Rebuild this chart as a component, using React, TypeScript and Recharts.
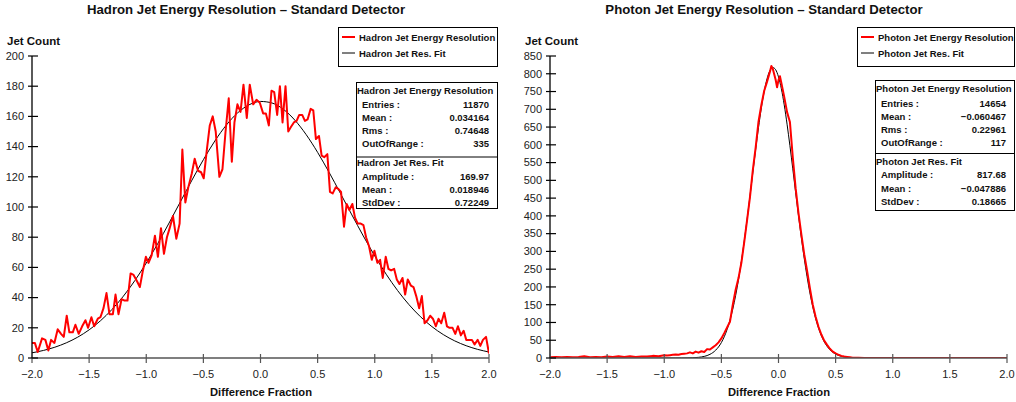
import React from 'react';
import { LineChart, Line, XAxis, YAxis } from 'recharts';

const FONT = '"Liberation Sans", Arial, Helvetica, sans-serif';

// ---------- shared ticks ----------
const xTicks = [-2, -1.5, -1, -0.5, 0, 0.5, 1, 1.5, 2];
const hadronYTicks = [0, 20, 40, 60, 80, 100, 120, 140, 160, 180, 200];
const photonYTicks = [0, 50, 100, 150, 200, 250, 300, 350, 400, 450, 500, 550, 600, 650, 700, 750, 800, 850];

// ---------- hadron histogram ----------
const hadronX = [
  -2.0, -1.975, -1.95, -1.912, -1.883, -1.857, -1.833, -1.804, -1.775, -1.746,
  -1.722, -1.696, -1.673, -1.643, -1.62, -1.591, -1.561, -1.532, -1.509, -1.48,
  -1.456, -1.424, -1.401, -1.374, -1.348, -1.322, -1.292, -1.269, -1.243, -1.216,
  -1.19, -1.164, -1.137, -1.111, -1.082, -1.056, -1.029, -1.003, -0.98, -0.953,
  -0.924, -0.898, -0.871, -0.845, -0.819, -0.795, -0.766, -0.737, -0.708, -0.684,
  -0.658, -0.632, -0.602, -0.576, -0.547, -0.52, -0.497, -0.471, -0.444, -0.418,
  -0.392, -0.36, -0.333, -0.307, -0.278, -0.251, -0.228, -0.202, -0.175, -0.149,
  -0.12, -0.094, -0.064, -0.035, -0.006, 0.023, 0.047, 0.073,
  0.096, 0.12, 0.146, 0.17, 0.193, 0.219, 0.243, 0.266, 0.292, 0.316,
  0.339, 0.365, 0.389, 0.412, 0.439, 0.462, 0.485, 0.512, 0.535, 0.558,
  0.585, 0.608, 0.632, 0.658, 0.681, 0.705, 0.731, 0.754, 0.778, 0.804,
  0.827, 0.851, 0.877, 0.901, 0.924, 0.95, 0.974, 0.997, 1.023, 1.047,
  1.07, 1.096, 1.12, 1.143, 1.17, 1.193, 1.216, 1.243, 1.266, 1.289,
  1.316, 1.339, 1.363, 1.389, 1.412, 1.436, 1.462, 1.485, 1.509, 1.535,
  1.558, 1.582, 1.608, 1.632, 1.655, 1.681, 1.705, 1.728, 1.754, 1.778,
  1.801, 1.827, 1.851, 1.874, 1.901, 1.924, 1.947, 1.974, 2.0,
];
const hadronCounts = [
  10, 10, 4, 13, 12, 5, 12, 10, 19, 16,
  14, 28, 17, 17, 22, 16, 21, 25, 20, 27,
  21, 26, 27, 33, 43, 29, 29, 42, 29, 39,
  38, 38, 56, 55, 51, 47, 58, 67, 63, 68,
  81, 67, 86, 69, 80, 86, 94, 79, 89, 138,
  103, 113, 122, 132, 124, 123, 119, 137, 154, 160,
  150, 120, 125, 149, 172, 130, 156, 168, 163, 181,
  159, 181, 168, 171, 169, 162, 162, 154,
  177, 176, 161, 180, 156, 180, 150, 153, 156, 157,
  161, 161, 157, 158, 165, 164, 145, 147, 134, 133,
  135, 110, 109, 113, 112, 110, 87, 102, 98, 102,
  93, 89, 89, 88, 80, 74, 65, 71, 63, 65,
  53, 67, 59, 58, 59, 52, 49, 53, 42, 52,
  48, 47, 41, 33, 41, 23, 25, 28, 26, 21,
  26, 23, 30, 21, 20, 20, 16, 21, 15, 18,
  12, 12, 12, 9, 12, 8, 12, 14, 3,
];
const hadronFitX = [
  -2.0, -1.9, -1.8, -1.7, -1.6, -1.5, -1.4, -1.3, -1.2, -1.1,
  -1.0, -0.9, -0.8, -0.7, -0.6, -0.5, -0.4, -0.3, -0.2, -0.1,
  0.0, 0.1, 0.2, 0.3, 0.4, 0.5, 0.6, 0.7, 0.8, 0.9,
  1.0, 1.1, 1.2, 1.3, 1.4, 1.5, 1.6, 1.7, 1.8, 1.9, 2.0,
];
const hadronFitY = [
  3.43, 5.0, 7.15, 10.03, 13.8, 18.65, 24.71, 32.12, 40.96, 51.24,
  62.88, 75.7, 89.42, 103.61, 117.77, 131.33, 143.67, 154.19, 162.35, 167.68,
  169.91, 168.9, 164.71, 157.58, 147.9, 136.17, 123.0, 108.99, 94.75, 80.8,
  67.6, 55.49, 44.68, 35.3, 27.35, 20.79, 15.51, 11.34, 8.14, 5.73, 3.96,
];

// ---------- photon histogram ----------
const photonX = [
  -2.0, -1.95, -1.9, -1.85, -1.8, -1.75, -1.7, -1.65, -1.6, -1.55,
  -1.5, -1.45, -1.4, -1.35, -1.3, -1.25, -1.2, -1.15, -1.1, -1.05,
  -1.0, -0.975, -0.95, -0.925, -0.9, -0.875, -0.85, -0.825, -0.8, -0.775,
  -0.75, -0.725, -0.7, -0.675, -0.65, -0.625, -0.6, -0.575, -0.55, -0.525,
  -0.5, -0.475, -0.45, -0.425, -0.4, -0.375, -0.35, -0.325, -0.3, -0.275,
  -0.25, -0.225, -0.2, -0.175, -0.15, -0.125, -0.1, -0.075, -0.0625, -0.05,
  -0.025, -0.0125, 0.0, 0.0125, 0.025, 0.05, 0.075, 0.1, 0.125, 0.15,
  0.175, 0.2, 0.225, 0.25, 0.275, 0.3, 0.325, 0.35, 0.375, 0.4,
  0.425, 0.45, 0.475, 0.5, 0.525, 0.55, 0.575, 0.6, 0.625, 0.65,
  0.7, 0.75, 0.8, 0.9, 1.0, 1.2, 1.4, 1.6, 1.8, 2.0,
];
const photonCounts = [
  2, 3, 2, 3, 2, 3, 5, 2, 3, 2,
  4, 3, 5, 3, 5, 3, 4, 4, 6, 5,
  8, 7, 8, 9, 10, 9, 11, 12, 13, 16,
  13, 18, 15, 19, 17, 25, 24, 30, 36, 44,
  55, 70, 86, 102, 150, 192, 225, 268, 326, 388,
  452, 528, 592, 665, 712, 752, 778, 806, 822, 814,
  783, 762, 782, 793, 774, 735, 692, 664, 565, 478,
  408, 348, 292, 246, 196, 150, 116, 88, 66, 49,
  37, 26, 18, 13, 9, 6, 4, 3, 2, 1,
  1, 0, 0, 0, 0, 0, 0, 0, 0, 0,
];
const photonFitX = [
  -2.0, -1.5, -1.2, -1.0, -0.9, -0.85, -0.8, -0.75, -0.7, -0.65,
  -0.6, -0.55, -0.5, -0.45, -0.4, -0.375, -0.35, -0.325, -0.3, -0.275,
  -0.25, -0.225, -0.2, -0.175, -0.15, -0.125, -0.1, -0.075, -0.05, -0.025,
  0.0, 0.025, 0.05, 0.075, 0.1, 0.125, 0.15, 0.175, 0.2, 0.225,
  0.25, 0.275, 0.3, 0.325, 0.35, 0.375, 0.4, 0.45, 0.5, 0.55,
  0.6, 0.65, 0.7, 0.8, 0.9, 1.0, 1.5, 2.0,
];
const photonFitY = [
  0, 0, 0, 0, 0.02, 0.08, 0.24, 0.69, 1.83, 4.5,
  10.3, 21.95, 43.5, 80.3, 138.0, 176.0, 220.7, 271.6, 328.4, 390.0,
  455.0, 521.0, 586.7, 648.5, 704.1, 750.8, 786.4, 809.0, 817.6, 811.5,
  791.2, 757.7, 712.6, 658.0, 597.4, 532.5, 466.1, 400.8, 338.5, 280.8,
  228.8, 183.0, 143.9, 111.0, 84.3, 62.8, 45.9, 23.3, 11.0, 4.84,
  1.98, 0.75, 0.27, 0.03, 0, 0, 0, 0,
];

// ---------- texts ----------
const hadronTitle = 'Hadron Jet Energy Resolution \u2013 Standard Detector';
const photonTitle = 'Photon Jet Energy Resolution \u2013 Standard Detector';
const hadronSeriesName = 'Hadron Jet Energy Resolution';
const hadronFitName = 'Hadron Jet Res. Fit';
const photonSeriesName = 'Photon Jet Energy Resolution';
const photonFitName = 'Photon Jet Res. Fit';
const hadronStats = [['Entries :', '11870'], ['Mean :', '0.034164'], ['Rms :', '0.74648'], ['OutOfRange :', '335']];
const hadronFitStats = [['Amplitude :', '169.97'], ['Mean :', '0.018946'], ['StdDev :', '0.72249']];
const photonStats = [['Entries :', '14654'], ['Mean :', '\u22120.060467'], ['Rms :', '0.22961'], ['OutOfRange :', '117']];
const photonFitStats = [['Amplitude :', '817.68'], ['Mean :', '\u22120.047886'], ['StdDev :', '0.18665']];

const toPoints = (xs: number[], ys: number[]) => xs.map((x, i) => ({ x, y: ys[i] }));

const fmtX = (v: number) => (v < 0 ? '\u2212' + Math.abs(v).toFixed(1) : v.toFixed(1));

const XTick = (props: any) => {
  const { x, y, payload } = props;
  return (
    <g>
      <line x1={x} x2={x} y1={y - 4} y2={y + 5} stroke="#555" strokeWidth={1.2} />
      <text x={x} y={y + 16} dy="0.35em" textAnchor="middle" fontSize={11} fill="#222" fontFamily={FONT}>
        {fmtX(payload.value)}
      </text>
    </g>
  );
};

const YTick = (props: any) => {
  const { x, y, payload } = props;
  return (
    <g>
      <line x1={x - 4} x2={x + 6} y1={y} y2={y} stroke="#000" strokeWidth={1.2} />
      <text x={x - 8} y={y} dy="0.35em" textAnchor="end" fontSize={11} fill="#222" fontFamily={FONT}>
        {payload.value}
      </text>
    </g>
  );
};

type PanelProps = {
  left: number;
  yWidth: number;
  marginRight: number;
  yTicks: number[];
  yMax: number;
  data: { x: number; y: number }[];
  fit: { x: number; y: number }[];
};

const Panel = ({ left, yWidth, marginRight, yTicks, yMax, data, fit }: PanelProps) => (
  <div style={{ position: 'absolute', left, top: 0 }}>
    <LineChart width={508} height={402} margin={{ top: 56, right: marginRight, bottom: 0, left: 0 }}>
      <XAxis
        dataKey="x"
        type="number"
        domain={[-2, 2]}
        ticks={xTicks}
        interval={0}
        allowDataOverflow
        height={44}
        tickSize={0}
        tickMargin={0}
        tickLine={false}
        axisLine={{ stroke: '#555', strokeWidth: 1.5 }}
        tick={(p: any) => <XTick {...p} />}
      />
      <YAxis
        type="number"
        domain={[0, yMax]}
        ticks={yTicks}
        interval={0}
        allowDataOverflow
        width={yWidth}
        tickSize={0}
        tickMargin={0}
        tickLine={false}
        axisLine={{ stroke: '#000', strokeWidth: 1.3 }}
        tick={(p: any) => <YTick {...p} />}
      />
      <Line
        data={fit}
        dataKey="y"
        type="monotone"
        stroke="#000"
        strokeWidth={1}
        dot={false}
        activeDot={false}
        isAnimationActive={false}
      />
      <Line
        data={data}
        dataKey="y"
        type="linear"
        stroke="#ff0000"
        strokeWidth={2}
        strokeLinejoin="round"
        dot={false}
        activeDot={false}
        isAnimationActive={false}
      />
    </LineChart>
  </div>
);

type BoxProps = {
  legendLeft: number;
  legendRight: number;
  seriesName: string;
  fitName: string;
  statsLeft: number;
  statsRight: number;
  statsTop: number;
  statsBottom: number;
  divider: number;
  titleY: number;
  rowY: number[];
  fitTitleY: number;
  fitRowY: number[];
  stats: string[][];
  fitStats: string[][];
};

const boxFont = { fontFamily: FONT, fontSize: 9.5, fontWeight: 700, fill: '#111' } as const;

const Boxes = (b: BoxProps) => (
  <g>
    <rect x={b.legendLeft + 0.5} y={27.5} width={b.legendRight - b.legendLeft} height={39} fill="#fff" stroke="#000" strokeWidth={1} />
    <line x1={b.legendLeft + 4} x2={b.legendLeft + 17} y1={37} y2={37} stroke="#ff0000" strokeWidth={2} />
    <text x={b.legendLeft + 21} y={37} dominantBaseline="central" {...boxFont}>{b.seriesName}</text>
    <line x1={b.legendLeft + 4} x2={b.legendLeft + 17} y1={53} y2={53} stroke="#000" strokeWidth={1} />
    <text x={b.legendLeft + 21} y={53} dominantBaseline="central" {...boxFont}>{b.fitName}</text>

    <rect x={b.statsLeft + 0.5} y={b.statsTop + 0.5} width={b.statsRight - b.statsLeft} height={b.statsBottom - b.statsTop} fill="#fff" stroke="#000" strokeWidth={1} />
    <line x1={b.statsLeft} x2={b.statsRight + 0.5} y1={b.divider + 0.5} y2={b.divider + 0.5} stroke="#000" strokeWidth={1} />
    <text x={b.statsLeft + 1} y={b.titleY} dominantBaseline="central" {...boxFont}>{b.seriesName}</text>
    {b.stats.map((r, i) => (
      <g key={'s' + i}>
        <text x={b.statsLeft + 6} y={b.rowY[i]} dominantBaseline="central" {...boxFont}>{r[0]}</text>
        <text x={b.statsRight - 8} y={b.rowY[i]} dominantBaseline="central" textAnchor="end" {...boxFont}>{r[1]}</text>
      </g>
    ))}
    <text x={b.statsLeft + 1} y={b.fitTitleY} dominantBaseline="central" {...boxFont}>{b.fitName}</text>
    {b.fitStats.map((r, i) => (
      <g key={'f' + i}>
        <text x={b.statsLeft + 6} y={b.fitRowY[i]} dominantBaseline="central" {...boxFont}>{r[0]}</text>
        <text x={b.statsRight - 8} y={b.fitRowY[i]} dominantBaseline="central" textAnchor="end" {...boxFont}>{r[1]}</text>
      </g>
    ))}
  </g>
);

const titleFont = { fontFamily: FONT, fontWeight: 700, fill: '#111' } as const;

export default function App() {
  const hadronData = toPoints(hadronX, hadronCounts);
  const hadronFit = toPoints(hadronFitX, hadronFitY);
  const photonData = toPoints(photonX, photonCounts);
  const photonFit = toPoints(photonFitX, photonFitY);

  return (
    <div style={{ position: 'absolute', left: 0, top: 0, width: 1016, height: 402, background: '#fff', overflow: 'hidden' }}>
      <Panel left={0} yWidth={32} marginRight={19} yTicks={hadronYTicks} yMax={200} data={hadronData} fit={hadronFit} />
      <Panel left={508} yWidth={42} marginRight={9} yTicks={photonYTicks} yMax={850} data={photonData} fit={photonFit} />
      <svg width={1016} height={402} style={{ position: 'absolute', left: 0, top: 0, pointerEvents: 'none' }}>
        <text x={246} y={9} dominantBaseline="central" textAnchor="middle" fontSize={13.2} {...titleFont}>{hadronTitle}</text>
        <text x={764} y={9} dominantBaseline="central" textAnchor="middle" fontSize={13.2} {...titleFont}>{photonTitle}</text>
        <text x={7} y={41} dominantBaseline="central" fontSize={11.5} {...titleFont}>Jet Count</text>
        <text x={525} y={41} dominantBaseline="central" fontSize={11.5} {...titleFont}>Jet Count</text>
        <text x={261} y={392} dominantBaseline="central" textAnchor="middle" fontSize={11.2} {...titleFont}>Difference Fraction</text>
        <text x={779} y={392} dominantBaseline="central" textAnchor="middle" fontSize={11.2} {...titleFont}>Difference Fraction</text>
        <Boxes
          legendLeft={338}
          legendRight={497}
          seriesName={hadronSeriesName}
          fitName={hadronFitName}
          statsLeft={356}
          statsRight={497}
          statsTop={82}
          statsBottom={208}
          divider={156.5}
          titleY={90}
          rowY={[104, 117, 130, 143]}
          fitTitleY={162}
          fitRowY={[176.5, 189.5, 202]}
          stats={hadronStats}
          fitStats={hadronFitStats}
        />
        <Boxes
          legendLeft={857}
          legendRight={1014}
          seriesName={photonSeriesName}
          fitName={photonFitName}
          statsLeft={875}
          statsRight={1014}
          statsTop={80}
          statsBottom={210}
          divider={153}
          titleY={88.5}
          rowY={[103, 116.5, 129.5, 142.5]}
          fitTitleY={161}
          fitRowY={[174.5, 188, 201]}
          stats={photonStats}
          fitStats={photonFitStats}
        />
      </svg>
    </div>
  );
}
